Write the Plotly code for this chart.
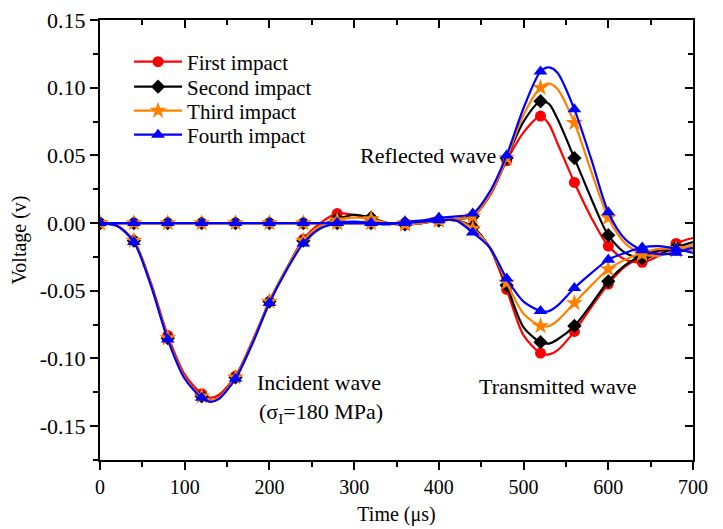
import plotly.graph_objects as go

# ---------------- data ----------------
time_us = [0, 20, 40, 60, 80, 100, 120, 130, 140, 160, 180, 200, 220, 240, 260, 280, 300, 320,
           340, 360, 380, 400, 420, 440, 460, 480, 500, 520, 530, 540, 560, 580, 600, 620, 640,
           660, 680, 700]

# incident + reflected wave
first_ir = [0.000, -0.002, -0.013, -0.044, -0.083, -0.112, -0.126, -0.129, -0.127, -0.113, -0.087,
            -0.058, -0.034, -0.012, 0.000, 0.007, 0.006, 0.003, 0.000, -0.001, 0.000, 0.002, 0.003,
            0.005, 0.020, 0.046, 0.067, 0.079, 0.073, 0.059, 0.030, 0.004, -0.017, -0.027, -0.029,
            -0.024, -0.015, -0.011]
second_ir = [0.000, -0.002, -0.013, -0.045, -0.085, -0.114, -0.128, -0.131, -0.129, -0.114, -0.088,
             -0.058, -0.034, -0.013, -0.002, 0.003, 0.006, 0.004, 0.000, -0.001, 0.000, 0.002, 0.003,
             0.005, 0.021, 0.048, 0.075, 0.090, 0.088, 0.077, 0.048, 0.018, -0.009, -0.022, -0.026,
             -0.023, -0.018, -0.014]
third_ir = [0.000, -0.002, -0.013, -0.045, -0.085, -0.114, -0.128, -0.131, -0.129, -0.114, -0.088,
            -0.058, -0.034, -0.013, -0.002, 0.002, 0.004, 0.003, 0.000, -0.001, 0.000, 0.002, 0.003,
            0.005, 0.021, 0.048, 0.080, 0.100, 0.103, 0.099, 0.074, 0.038, 0.004, -0.015, -0.023,
            -0.024, -0.020, -0.016]
fourth_ir = [0.000, -0.002, -0.014, -0.046, -0.086, -0.115, -0.129, -0.132, -0.130, -0.115, -0.089,
             -0.059, -0.035, -0.015, -0.004, 0.000, 0.001, 0.000, -0.001, 0.001, 0.002, 0.004, 0.005,
             0.007, 0.023, 0.050, 0.085, 0.112, 0.115, 0.111, 0.084, 0.047, 0.008, -0.012, -0.020,
             -0.023, -0.022, -0.018]

# transmitted wave
first_tr = [0.000, 0.000, 0.000, 0.000, 0.000, 0.000, 0.000, 0.000, 0.000, 0.000, 0.000, 0.000,
            0.000, 0.000, 0.000, 0.000, 0.000, 0.000, 0.000, 0.000, 0.001, 0.002, 0.002, -0.003,
            -0.018, -0.049, -0.083, -0.096, -0.097, -0.094, -0.080, -0.062, -0.045, -0.032, -0.025,
            -0.021, -0.019, -0.019]
second_tr = [0.000, 0.000, 0.000, 0.000, 0.000, 0.000, 0.000, 0.000, 0.000, 0.000, 0.000, 0.000,
             0.000, 0.000, 0.000, 0.000, 0.000, 0.000, 0.000, 0.000, 0.001, 0.002, 0.002, -0.003,
             -0.018, -0.046, -0.077, -0.088, -0.089, -0.086, -0.076, -0.060, -0.043, -0.031, -0.024,
             -0.020, -0.019, -0.019]
third_tr = [0.000, 0.000, 0.000, 0.000, 0.000, 0.000, 0.000, 0.000, 0.000, 0.000, 0.000, 0.000,
            0.000, 0.000, 0.000, 0.000, 0.000, 0.000, 0.000, 0.000, 0.001, 0.002, 0.002, -0.004,
            -0.018, -0.044, -0.067, -0.076, -0.076, -0.072, -0.059, -0.046, -0.034, -0.027, -0.022,
            -0.019, -0.019, -0.020]
fourth_tr = [0.000, 0.000, 0.000, 0.000, 0.000, 0.000, 0.000, 0.000, 0.000, 0.000, 0.000, 0.000,
             0.000, 0.000, 0.000, 0.000, 0.000, 0.000, 0.000, 0.000, 0.001, 0.002, 0.002, -0.007,
             -0.018, -0.041, -0.058, -0.065, -0.065, -0.061, -0.048, -0.037, -0.027, -0.022, -0.018,
             -0.017, -0.019, -0.022]

series_names = ["First impact", "Second impact", "Third impact", "Fourth impact"]
series_ir = [first_ir, second_ir, third_ir, fourth_ir]
series_tr = [first_tr, second_tr, third_tr, fourth_tr]
marker_step_us = 40

x_ticks = [0, 100, 200, 300, 400, 500, 600, 700]
y_ticks = [-0.15, -0.10, -0.05, 0.00, 0.05, 0.10, 0.15]
y_tick_labels = ["-0.15", "-0.10", "-0.05", "0.00", "0.05", "0.10", "0.15"]

# ---------------- styles ----------------
colors = ["#FF0000", "#000000", "#FF8000", "#0000FF"]
symbols = ["circle", "diamond", "star", "triangle-up"]
msizes = [11, 11, 13, 12]
legend_ids = ["legend", "legend2", "legend3", "legend4"]
legend_y = [0.9045, 0.8477, 0.7932, 0.7386]
FONT = "Liberation Serif, Times New Roman, serif"

fig = go.Figure()

for name, ir, tr, c, s, ms, lid in zip(series_names, series_ir, series_tr, colors, symbols, msizes, legend_ids):
    mx = [t for t in time_us if t % marker_step_us == 0]
    for ys in (ir, tr):
        fig.add_trace(go.Scatter(x=time_us, y=ys, mode="lines",
                                 line=dict(color=c, width=2.2, shape="spline", smoothing=0.8),
                                 showlegend=False, hoverinfo="skip"))
        my = [v for t, v in zip(time_us, ys) if t % marker_step_us == 0]
        fig.add_trace(go.Scatter(x=mx, y=my, mode="markers",
                                 marker=dict(color=c, symbol=s, size=ms, line=dict(width=0)),
                                 showlegend=False, hoverinfo="skip"))
    fig.add_trace(go.Scatter(x=[None], y=[None], mode="lines+markers", name=name, legend=lid,
                             line=dict(color=c, width=2.2), marker=dict(color=c, symbol=s, size=ms)))

# dummy trace for the mirror axes
fig.add_trace(go.Scatter(x=[0], y=[0], xaxis="x2", yaxis="y2", mode="markers",
                         marker=dict(opacity=0), showlegend=False, hoverinfo="skip"))

axis_common = dict(showline=True, linewidth=2, linecolor="black", showgrid=False, zeroline=False,
                   tickcolor="black", tickwidth=2, ticklen=8, automargin=False,
                   ticklabeloverflow="allow")
minor_out = dict(ticks="outside", ticklen=5, tickwidth=2, tickcolor="black")
minor_in = dict(ticks="inside", ticklen=5, tickwidth=2, tickcolor="black")

legend_common = dict(x=0.049, xanchor="left", yanchor="middle", bgcolor="rgba(0,0,0,0)",
                     font=dict(family=FONT, size=21, color="black"), itemwidth=48)

# the page body adds an 8 px offset, so the margins are shifted to keep the
# plot frame at x 100..693, y 20..460 in the 723x529 window
fig.update_layout(
    width=723, height=529,
    margin=dict(l=92, r=38, t=12, b=77),
    paper_bgcolor="white", plot_bgcolor="white",
    font=dict(family=FONT, size=21, color="black"),
    xaxis=dict(range=[0, 700], tickvals=x_ticks, ticks="outside",
               tickfont=dict(family=FONT, size=20, color="black"),
               minor=dict(dtick=50, tick0=0, **minor_out),
               title=dict(text="Time (μs)", font=dict(family=FONT, size=20), standoff=10),
               **axis_common),
    yaxis=dict(range=[-0.175, 0.15], tickvals=y_ticks, ticktext=y_tick_labels, ticks="outside",
               tickfont=dict(family=FONT, size=22, color="black"),
               minor=dict(dtick=0.025, tick0=0, **minor_out),
               title=dict(text="Voltage (v)", font=dict(family=FONT, size=20), standoff=10),
               **axis_common),
    xaxis2=dict(range=[0, 700], overlaying="x", side="top", anchor="y2", tickvals=x_ticks, ticks="inside",
                showticklabels=False, minor=dict(dtick=50, tick0=0, **minor_in), **axis_common),
    yaxis2=dict(range=[-0.175, 0.15], overlaying="y", side="right", anchor="x2", tickvals=y_ticks,
                ticks="inside", showticklabels=False, minor=dict(dtick=0.025, tick0=0, **minor_in),
                **axis_common),
    legend=dict(y=legend_y[0], **legend_common),
    legend2=dict(y=legend_y[1], **legend_common),
    legend3=dict(y=legend_y[2], **legend_common),
    legend4=dict(y=legend_y[3], **legend_common),
    showlegend=True,
)

ann_font = dict(family=FONT, size=22, color="black")
fig.add_annotation(x=304, y=0.05, text="Reflected wave", showarrow=False, xanchor="left", font=ann_font)
fig.add_annotation(x=183, y=-0.118, text="Incident wave", showarrow=False, xanchor="left", font=ann_font)
fig.add_annotation(x=185, y=-0.140, text="(σ<sub>I</sub>=180 MPa)", showarrow=False, xanchor="left", font=ann_font)
fig.add_annotation(x=445, y=-0.1205, text="Transmitted wave", showarrow=False, xanchor="left", font=ann_font)

fig.write_html("out.html")
